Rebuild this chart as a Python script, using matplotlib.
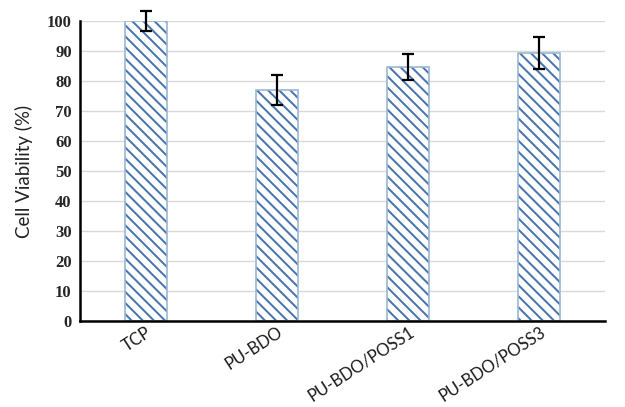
import matplotlib
matplotlib.use("Agg")
import matplotlib.pyplot as plt
import numpy as np

categories = ["TCP", "PU-BDO", "PU-BDO/POSS1", "PU-BDO/POSS3"]
values = [100, 77, 84.7, 89.5]
errors = [3.3, 5.0, 4.2, 5.3]
yticks = [0, 10, 20, 30, 40, 50, 60, 70, 80, 90, 100]

DPI = 100

plt.rcParams['hatch.linewidth'] = 1.45

fig = plt.figure(figsize=(625 / DPI, 407 / DPI), dpi=DPI)
ax = fig.add_axes([0.128, 0.211, 0.84, 0.737])

x = np.arange(len(categories))
# hatched fill (hatch takes the edge colour)
ax.bar(x, values, width=0.32, facecolor='white', edgecolor='#4a75ad',
       hatch='\\\\\\', linewidth=0, zorder=2)
# light outline
ax.bar(x, values, width=0.32, facecolor='none', edgecolor='#9ab8d6',
       linewidth=1.2, zorder=2.5)
ax.errorbar(x, values, yerr=errors, fmt='none', ecolor='black',
            elinewidth=1.6, capsize=4, capthick=1.6, zorder=3,
            clip_on=False)

ax.set_xlim(-0.5, len(categories) - 0.5)
ax.set_ylim(0, 100)
ax.set_yticks(yticks)
ax.set_yticklabels([str(t) for t in yticks], fontsize=12, family='Liberation Serif',
                   fontweight='bold', color='#262626')
ax.set_xticks(x)
ax.set_xticklabels(categories, rotation=33, ha='right', rotation_mode='anchor',
                   fontsize=12, family='Lato', color='#1a1a1a')
for lbl in ax.get_xticklabels():
    lbl.set_transform(lbl.get_transform() +
                      matplotlib.transforms.ScaledTranslation(-3 / 72, 0, fig.dpi_scale_trans))
ax.tick_params(axis='y', length=0, pad=6)
ax.tick_params(axis='x', length=0, pad=2)

ax.grid(axis='y', color='#d9d9d9', linewidth=1.0, zorder=0)
ax.set_axisbelow(True)
for s in ['top', 'right']:
    ax.spines[s].set_visible(False)
for s in ['left', 'bottom']:
    ax.spines[s].set_linewidth(1.8)
    ax.spines[s].set_color('black')

ax.set_ylabel("Cell Viability (%)", fontsize=13.5, family='Lato',
              color='#222222', labelpad=10)

fig.savefig("out.png", dpi=DPI)
